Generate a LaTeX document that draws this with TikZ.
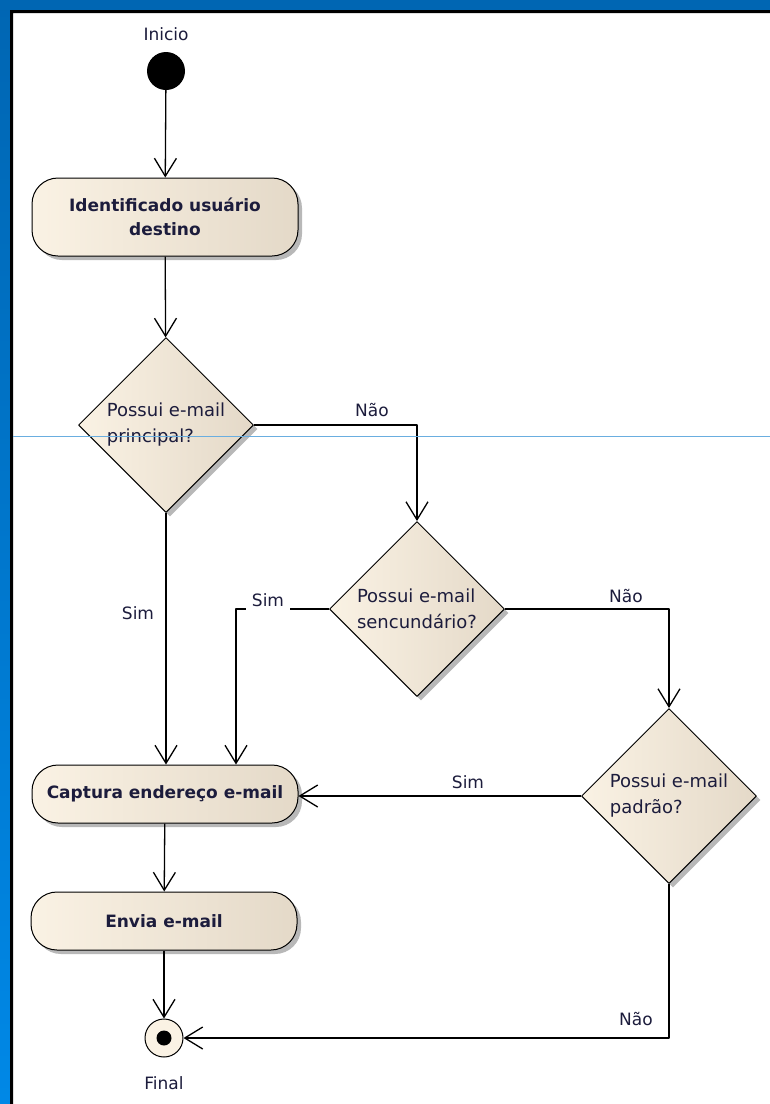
\documentclass[tikz,border=0pt]{standalone}
\usepackage{fontspec}
\setmainfont{DejaVu Sans}
\usetikzlibrary{arrows.meta,shapes.geometric,shadows}
\definecolor{azul}{HTML}{0066B3}
\definecolor{azulclaro}{HTML}{0088E6}
\definecolor{creme}{HTML}{FAF2E4}
\definecolor{cremeesc}{HTML}{E4D9C8}
\definecolor{guia}{HTML}{6AAEE0}
\definecolor{texto}{HTML}{1C1C3C}
\begin{document}
\begin{tikzpicture}[x=1pt,y=-1pt,>={Straight Barb[length=18pt,width=22pt]},line join=round,
	font=\fontsize{17}{24}\selectfont,text=texto,
	sombra/.style={drop shadow={shadow xshift=4pt,shadow yshift=-4pt,fill=black!28,opacity=1}},
	acao/.style={draw,line width=1pt,rounded corners=26pt,left color=creme,right color=cremeesc,sombra,minimum width=266pt,minimum height=58pt,align=center,font=\fontsize{17}{24}\selectfont\bfseries},
	decisao/.style={draw,line width=1pt,diamond,aspect=1,inner sep=0pt,minimum size=175pt,left color=creme,right color=cremeesc,sombra,align=left,font=\fontsize{18}{26}\selectfont},
	fluxo/.style={draw,line width=1.3pt,->},
	rotulo/.style={inner sep=2pt}]
	\useasboundingbox (0,0) rectangle (770,1104);
	% moldura
	\fill[white] (0,0) rectangle (770,1104);
	\fill[top color=azul,bottom color=azulclaro] (0,0) rectangle (10,1104);
	\fill[azul] (0,0) rectangle (770,10);
	\fill[black] (10,10) rectangle (770,13) (10,10) rectangle (13,1104);
	% nos
	\node (tinicio) at (166,34) {Inicio};
	\node[circle,fill=black,minimum size=38pt,inner sep=0pt] (inicio) at (166,71) {};
	\node[acao,minimum height=78pt] (ident) at (165,217) {Identificado usuário\\destino};
	\node[decisao] (d1) at (166,425) {Possui e-mail\\principal?};
	\node[decisao] (d2) at (417,609) {Possui e-mail\\sencundário?};
	\node[decisao] (d3) at (669,796) {Possui e-mail\\padrão?};
	\node[acao] (captura) at (165,794) {Captura endereço e-mail};
	\node[acao] (envia) at (164,921) {Envia e-mail};
	\node[circle,draw,line width=1pt,fill=creme,minimum size=38pt,inner sep=0pt] (final) at (164,1038) {};
	\fill (final) circle (7.5pt);
	\node (tfinal) at (164,1083) {Final};
	% fluxos
	\draw[fluxo] (inicio) -- (ident);
	\draw[fluxo] (ident) -- (d1);
	\draw[fluxo] (d1.east) -| (d2.north);
	\draw[fluxo] (d1.south) -- (d1.south |- captura.north);
	\draw[fluxo] (d2.west) -| ([xshift=71pt]captura.north);
	\draw[fluxo] (d2.east) -| (d3.north);
	\draw[fluxo] (d3.west) -- (d3.west -| captura.east);
	\draw[fluxo] (captura) -- (envia);
	\draw[fluxo] (envia) -- (final);
	\draw[fluxo] (d3.south) |- (final.east);
	% rotulos
	\node[rotulo] (nao1) at (372,410) {Não};
	\node[rotulo] (sim1) at (138,613) {Sim};
	\node[rotulo,fill=white,inner xsep=6pt,inner ysep=6pt] (sim2) at (268,600) {Sim};
	\node[rotulo] (nao2) at (626,596) {Não};
	\node[rotulo] (sim3) at (468,782) {Sim};
	\node[rotulo] (nao3) at (636,1019) {Não};
	% linha guia
	\draw[guia,line width=0.8pt] (13,436) -- (770,436);
\end{tikzpicture}
\end{document}
